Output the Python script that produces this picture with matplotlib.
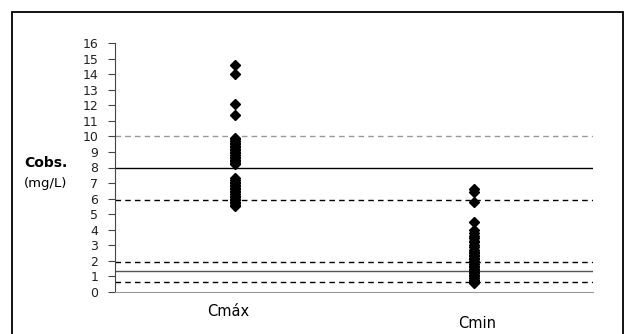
import matplotlib
matplotlib.use("Agg")
import matplotlib.pyplot as plt
from matplotlib.patches import Rectangle

categories = ["Cmáx", "Cmin"]
cmax_values = [14.6, 14.0, 12.1, 11.4,
               9.9, 9.8, 9.7, 9.6, 9.5, 9.4, 9.3, 9.2, 9.1, 9.0, 8.9, 8.8,
               8.7, 8.6, 8.5, 8.4, 8.3, 8.2,
               7.3, 7.2, 7.1, 7.0, 6.9, 6.8, 6.7, 6.6, 6.5, 6.4, 6.3, 6.2,
               6.1, 6.0, 5.9, 5.8, 5.7, 5.6, 5.5]
cmin_values = [6.6, 6.4, 5.8, 4.5,
               4.0, 3.8, 3.6, 3.5, 3.3, 3.2, 3.0, 2.9, 2.7, 2.6, 2.5, 2.4,
               2.3, 2.2, 2.1, 2.0, 1.9, 1.8, 1.7, 1.6, 1.5, 1.4, 1.3, 1.2,
               1.1, 1.0, 0.9, 0.8, 0.7, 0.6]
# reference lines: (value, color, style)
ref_levels = [10.0, 8.0, 5.9, 1.9, 1.35, 0.65]
ref_colors = ["#999999", "black", "black", "black", "#555555", "black"]
ref_styles = ["--", "-", "--", "--", "-", "--"]
yticks = list(range(0, 17))

fig = plt.figure(figsize=(6.27, 3.34), dpi=100)
ax = fig.add_axes([115/627, 1-292/334, (593-115)/627, (292-43)/334])

for lvl, c, ls in zip(ref_levels, ref_colors, ref_styles):
    ax.axhline(lvl, color=c, linestyle=ls, linewidth=1.0, dashes=(4, 3) if ls == "--" else (None, None), zorder=1)

ax.plot([1]*len(cmax_values), cmax_values, linestyle="none", marker="D",
        color="black", markersize=5.3, zorder=3)
ax.plot([2]*len(cmin_values), cmin_values, linestyle="none", marker="D",
        color="black", markersize=5.3, zorder=3)

ax.set_xlim(0.5, 2.5)
ax.set_ylim(0, 16)
ax.set_yticks(yticks)
ax.set_yticklabels([str(t) for t in yticks], fontsize=9, color="#222222")
ax.set_xticks([])
for s in ["top", "right"]:
    ax.spines[s].set_visible(False)
ax.spines["left"].set_color("#444444")
ax.spines["bottom"].set_color("#999999")
ax.tick_params(axis="y", direction="out", length=5, width=0.8, color="#444444", pad=7)

fig.text(228/627, 1-311/334, categories[0], ha="center", va="center", fontsize=10.5)
fig.text(477/627, 1-323/334, categories[1], ha="center", va="center", fontsize=10.5)
fig.text(24/627, 1-163/334, "Cobs.", ha="left", va="center", fontsize=10, fontweight="bold")
fig.text(24/627, 1-183/334, "(mg/L)", ha="left", va="center", fontsize=9.5)

fig.patches.append(Rectangle((11.5/627, -0.1), (622.5-11.5)/627, 1.1 - 11.5/334,
                             transform=fig.transFigure, fill=False,
                             edgecolor="black", linewidth=1.3, clip_on=False))

fig.savefig("out.png", dpi=100)
